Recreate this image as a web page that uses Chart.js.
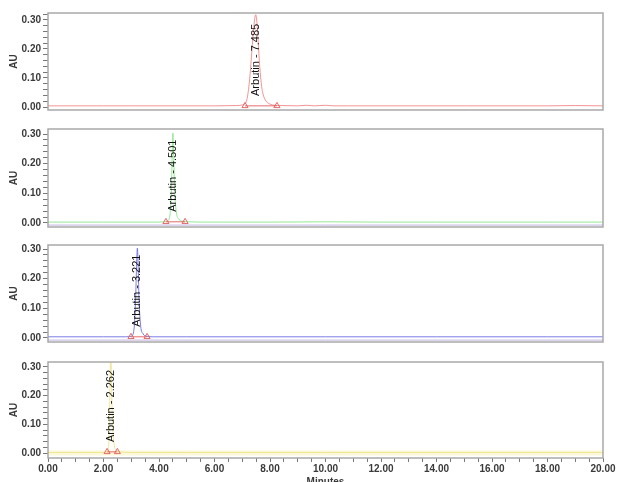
<!DOCTYPE html>
<html>
<head>
<meta charset="utf-8">
<script src="https://cdn.jsdelivr.net/npm/chart.js@4.4.1/dist/chart.umd.min.js"></script>
<style>
    html, body { margin: 0; padding: 0; background: #fff; overflow: hidden; }
    #wrap { position: relative; width: 617px; height: 482px; overflow: hidden; }
    #wrap canvas { position: absolute; left: 0; top: 0; }
</style>
</head>
<body>
<div id="wrap">
    <canvas id="p1" width="617" height="500"></canvas>
    <canvas id="p2" width="617" height="500"></canvas>
    <canvas id="p3" width="617" height="500"></canvas>
    <canvas id="p4" width="617" height="500"></canvas>
</div>
<script>
// Retention time (minutes) and absorbance (AU)

// Panel 1 - red trace, Arbutin at 7.485
const redTime = [0, 1, 2, 3, 4, 5, 6, 6.8, 7.0, 7.15, 7.25, 7.33, 7.40, 7.45, 7.485, 7.52, 7.57, 7.63, 7.70, 7.78, 7.88, 8.0, 8.15, 8.4, 9.0, 9.3, 9.6, 10.0, 10.3, 10.8, 12, 13, 14, 15, 16, 17, 18, 19, 20];
const redAU = [0.004, 0.004, 0.004, 0.004, 0.004, 0.004, 0.004, 0.005, 0.007, 0.02, 0.08, 0.17, 0.26, 0.305, 0.318, 0.30, 0.23, 0.14, 0.07, 0.035, 0.018, 0.01, 0.006, 0.005, 0.004, 0.006, 0.004, 0.006, 0.004, 0.004, 0.004, 0.004, 0.004, 0.004, 0.004, 0.004, 0.004, 0.005, 0.004];
const redMarks = [7.1, 8.25];

// Panel 2 - green trace, Arbutin at 4.501
const greenTime = [0, 2, 4, 4.2, 4.32, 4.4, 4.45, 4.48, 4.501, 4.52, 4.56, 4.62, 4.7, 4.85, 5.0, 6, 8, 10, 12, 14, 16, 18, 20];
const greenAU = [0.003, 0.003, 0.003, 0.004, 0.008, 0.03, 0.12, 0.25, 0.303, 0.26, 0.12, 0.04, 0.015, 0.006, 0.004, 0.003, 0.003, 0.004, 0.003, 0.003, 0.003, 0.003, 0.003];
const greenMarks = [4.25, 4.94];

// Panel 3 - blue trace, Arbutin at 3.221
const blueTime = [0, 2, 2.8, 3.0, 3.1, 3.16, 3.2, 3.221, 3.24, 3.28, 3.34, 3.42, 3.55, 3.8, 5, 8, 10, 12, 14, 16, 18, 20];
const blueAU = [0.004, 0.004, 0.004, 0.006, 0.03, 0.14, 0.27, 0.303, 0.27, 0.13, 0.04, 0.015, 0.006, 0.004, 0.004, 0.004, 0.004, 0.004, 0.004, 0.004, 0.004, 0.004];
const blueMarks = [2.99, 3.57];

// Panel 4 - yellow trace, Arbutin at 2.262 (runs off the top)
const yellowTime = [0, 1, 2, 2.1, 2.18, 2.22, 2.245, 2.262, 2.28, 2.31, 2.37, 2.45, 2.6, 3, 5, 10, 15, 20];
const yellowAU = [0.002, 0.002, 0.002, 0.004, 0.02, 0.15, 0.30, 0.36, 0.30, 0.15, 0.04, 0.012, 0.004, 0.002, 0.002, 0.002, 0.002, 0.002];
const yellowMarks = [2.13, 2.5];

// flat reference traces
const flatTime = [0, 20];
const lavenderAU = [-0.007, -0.007];
const bandAU = [0, 0];

const peakNames = ['Arbutin - 7.485', 'Arbutin - 4.501', 'Arbutin - 3.221', 'Arbutin - 2.262'];
const peakTimes = [7.485, 4.501, 3.221, 2.262];
const markLevel = 0.004;

Chart.defaults.font.family = '"Liberation Sans", Arial, sans-serif';

function toPoints(xs, ys) {
    return xs.map((x, i) => ({ x: x, y: ys[i] }));
}

function traceSet(xs, ys, color) {
    return {
        data: toPoints(xs, ys),
        borderColor: color,
        borderWidth: 1,
        pointRadius: 0,
        cubicInterpolationMode: 'monotone',
        order: 2
    };
}

function markSet(marks) {
    return {
        data: marks.map(t => ({ x: t, y: markLevel })),
        borderColor: 'rgba(225,90,90,0.9)',
        backgroundColor: 'rgba(0,0,0,0)',
        borderWidth: 1,
        pointStyle: 'triangle',
        pointRadius: 3.5,
        pointBorderWidth: 1,
        order: 1
    };
}

function flatSet(ys, color, width) {
    return {
        data: toPoints(flatTime, ys),
        borderColor: color,
        borderWidth: width,
        pointRadius: 0,
        order: 3
    };
}

// box round the plot area and the rotated peak label
const frame = {
    id: 'frame',
    afterDatasetsDraw(chart, args, opts) {
        const { ctx, chartArea: a, scales } = chart;
        ctx.save();
        ctx.strokeStyle = '#a9a9a9';
        ctx.lineWidth = 1.5;
        ctx.strokeRect(a.left, a.top, a.right - a.left, a.bottom - a.top);
        ctx.translate(scales.x.getPixelForValue(opts.time), scales.y.getPixelForValue(0.038));
        ctx.rotate(-Math.PI / 2);
        ctx.font = '11px "Liberation Sans", Arial, sans-serif';
        ctx.fillStyle = '#111';
        ctx.textAlign = 'left';
        ctx.textBaseline = 'middle';
        ctx.fillText(opts.text, 0, 0);
        ctx.restore();
    }
};

const panels = [
    { id: 'p1', top: 13, bottom: 110, min: -0.0103, max: 0.324, showX: false,
      datasets: [traceSet(redTime, redAU, 'rgba(240,120,120,0.8)'), markSet(redMarks)] },
    { id: 'p2', top: 129, bottom: 227, min: -0.0135, max: 0.317, showX: false,
      datasets: [traceSet(greenTime, greenAU, 'rgba(130,228,130,0.85)'), markSet(greenMarks), flatSet(lavenderAU, 'rgba(185,168,218,0.85)', 1)] },
    { id: 'p3', top: 245, bottom: 342, min: -0.0135, max: 0.3135, showX: false,
      datasets: [traceSet(blueTime, blueAU, 'rgba(100,100,228,0.85)'), markSet(blueMarks), flatSet(lavenderAU, 'rgba(185,168,218,0.85)', 1)] },
    { id: 'p4', top: 362, bottom: 458, min: -0.0174, max: 0.3174, showX: true,
      datasets: [traceSet(yellowTime, yellowAU, 'rgba(232,222,120,0.75)'), markSet(yellowMarks), flatSet(bandAU, 'rgba(252,249,218,1)', 5)] }
];

const tickFont = { size: 10, weight: 'bold' };
const xAxisHeight = 30;

panels.forEach((p, i) => {
    const xh = p.showX ? xAxisHeight : 0;
    new Chart(document.getElementById(p.id), {
        type: 'line',
        data: { datasets: p.datasets },
        options: {
            responsive: false,
            animation: false,
            layout: {
                autoPadding: false,
                padding: { left: 0, right: 14, top: p.top, bottom: 500 - p.bottom - xh }
            },
            plugins: {
                legend: { display: false },
                tooltip: { enabled: false },
                frame: { time: peakTimes[i], text: peakNames[i] }
            },
            scales: {
                x: {
                    type: 'linear',
                    min: 0,
                    max: 20,
                    display: p.showX,
                    afterFit: s => { s.height = xh; },
                    border: { display: false },
                    grid: { drawOnChartArea: false, tickLength: 4, color: '#777' },
                    ticks: {
                        stepSize: 0.5,
                        autoSkip: false,
                        maxRotation: 0,
                        minRotation: 0,
                        padding: 1,
                        color: '#3a3a3a',
                        font: tickFont,
                        callback: v => Math.round(v * 2) % 4 === 0 ? v.toFixed(2) : ''
                    },
                    title: {
                        display: true,
                        text: 'Minutes',
                        color: '#3a3a3a',
                        font: { size: 10, weight: 'bold' },
                        padding: { top: 1, bottom: 0 }
                    }
                },
                y: {
                    min: p.min,
                    max: p.max,
                    afterFit: s => { s.width = 48; },
                    border: { display: false },
                    grid: { drawOnChartArea: false, tickLength: 5, color: '#777' },
                    ticks: {
                        stepSize: 0.02,
                        includeBounds: false,
                        autoSkip: false,
                        padding: 2,
                        color: '#3a3a3a',
                        font: tickFont,
                        callback: v => Math.abs(Math.round(v * 100)) % 10 === 0 ? v.toFixed(2) : ''
                    },
                    title: {
                        display: true,
                        text: 'AU',
                        color: '#3a3a3a',
                        font: { size: 10, weight: 'bold' },
                        padding: { top: 8, bottom: 0 }
                    }
                }
            }
        },
        plugins: [frame]
    });
});
</script>
</body>
</html>
